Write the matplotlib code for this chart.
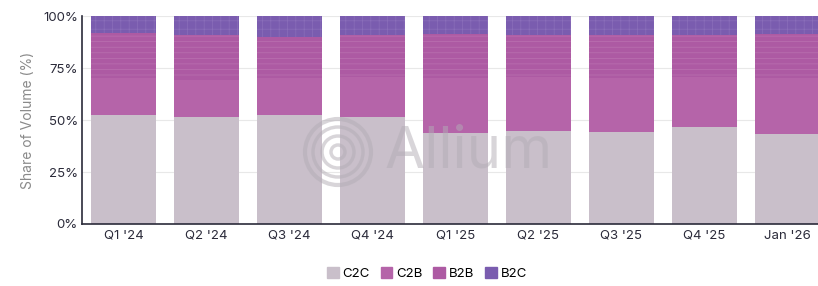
import numpy as np
import matplotlib
matplotlib.use("Agg")
import matplotlib.pyplot as plt
from matplotlib.patches import Ellipse, Patch

plt.rcParams['font.family'] = ['Inter', 'DejaVu Sans']
plt.rcParams['hatch.linewidth'] = 0.5

# data (share of volume, %)
periods = ["Q1 '24", "Q2 '24", "Q3 '24", "Q4 '24", "Q1 '25", "Q2 '25", "Q3 '25", "Q4 '25", "Jan '26"]
c2c = [52.4, 51.3, 52.4, 51.3, 43.6, 44.9, 44.4, 46.5, 43.3]
c2b = [17.6, 17.9, 17.6, 19.5, 26.4, 25.9, 25.6, 24.3, 26.7]
b2b = [21.7, 21.7, 20.1, 20.1, 21.2, 20.1, 20.9, 20.1, 21.2]
b2c = [8.3, 9.1, 9.9, 9.1, 8.8, 9.1, 9.1, 9.1, 8.8]

col_c2c = '#c9bfca'
col_c2b = '#b564a9'
col_b2b = '#ad5aa3'
col_b2c = '#7a5caf'

W, H = 818, 286
fig = plt.figure(figsize=(W / 100, H / 100), dpi=100)
ax = fig.add_axes([0.1002, 0.2168, 0.913, 0.727])

x = np.arange(len(periods))
w = 0.78
bottom = np.zeros(len(periods))
ax.bar(x, c2c, w, bottom=bottom, color=col_c2c, linewidth=0, zorder=2)
bottom += c2c
ax.bar(x, c2b, w, bottom=bottom, color=col_c2b, linewidth=0, zorder=2)
bottom += c2b
ax.bar(x, b2b, w, bottom=bottom, color=col_b2b, edgecolor='#bb72b1', linewidth=0,
       hatch='---', zorder=2)
bottom += b2b
ax.bar(x, b2c, w, bottom=bottom, color=col_b2c, edgecolor='#8a6eba', linewidth=0,
       hatch='++', zorder=2)

ax.set_xlim(-0.5, len(periods) - 0.5)
ax.set_ylim(0, 100)
ax.set_yticks([0, 25, 50, 75, 100])
ax.set_yticklabels(['0%', '25%', '50%', '75%', '100%'])
ax.set_xticks(x)
ax.set_xticklabels(periods)
ax.tick_params(axis='both', length=0, labelsize=9.5, colors='#2b2b3a', pad=3)
ax.tick_params(axis='x', pad=4)
ax.set_ylabel('Share of Volume (%)', fontsize=10, color='#8a8a8a', labelpad=6)
ax.grid(axis='y', color='#e8e8e8', linewidth=0.8, zorder=0)
for s in ['top', 'right']:
    ax.spines[s].set_visible(False)
for s in ['left', 'bottom']:
    ax.spines[s].set_color('#2b2b3a')
    ax.spines[s].set_linewidth(1.2)
    ax.spines[s].set_zorder(3)

# watermark
wm = '#b3adb5'
cx, cy = 338 / W, (H - 152) / H
for r, lw in [(7, 2.5), (16, 2.5), (25, 2.5), (33, 3.0)]:
    fig.patches.append(Ellipse((cx, cy), 2 * r / W, 2 * r / H, transform=fig.transFigure,
                               fill=False, edgecolor=wm, linewidth=lw, alpha=0.5, zorder=5))
fig.text(385 / W, cy, 'Allium', fontsize=42, color=wm, alpha=0.5,
         ha='left', va='center', zorder=5)

handles = [Patch(color=col_c2c, label='C2C'), Patch(color=col_c2b, label='C2B'),
           Patch(color=col_b2b, label='B2B'), Patch(color=col_b2c, label='B2C')]
fig.legend(handles=handles, loc='center', bbox_to_anchor=(0.522, 0.045), ncol=4,
           frameon=False, fontsize=9.5, handlelength=0.9, handleheight=0.9,
           handletextpad=0.3, columnspacing=0.8)

fig.savefig('out.png', dpi=100)
